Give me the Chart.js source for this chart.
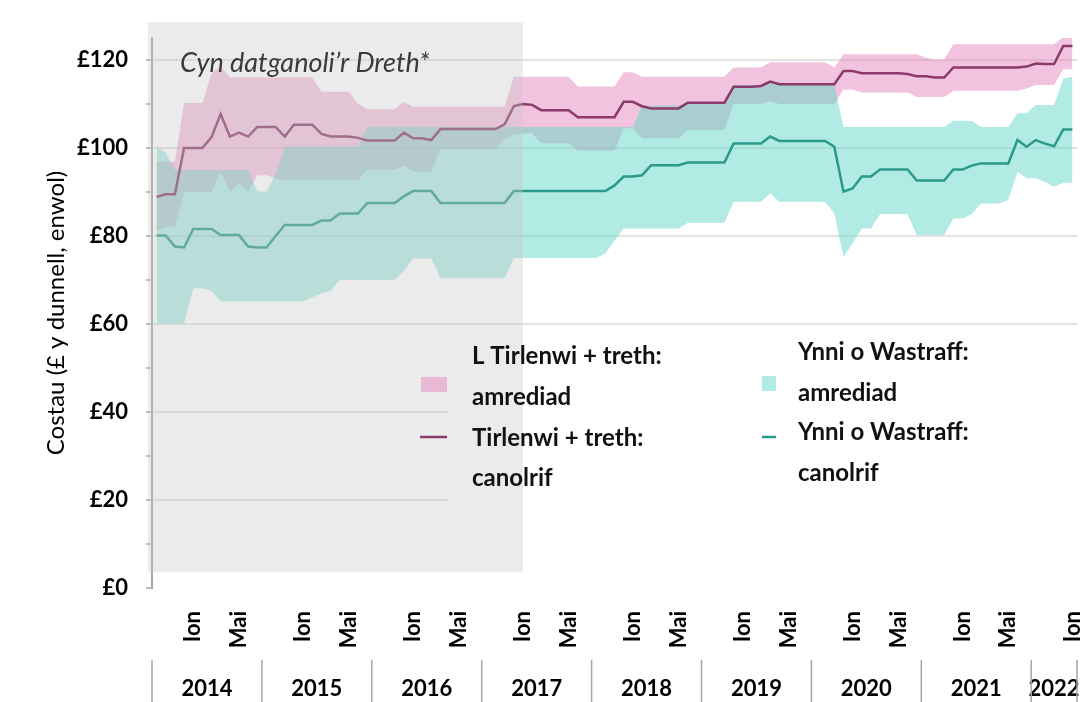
<!DOCTYPE html>
<html>
<head>
<meta charset="utf-8">
<script src="https://cdn.jsdelivr.net/npm/chart.js@4.4.1/dist/chart.umd.min.js"></script>
<style>
  html, body { margin: 0; padding: 0; background: #fff; }
  #wrap { width: 1084px; height: 702px; position: relative; }
</style>
</head>
<body>
<div id="wrap"><canvas id="costChart"></canvas></div>
<script>
// monthly points, first one is autumn 2013, last one Jan 2022
const landfillMedian = [
  88.9, 89.5, 89.5, 100, 100, 100, 102.5, 107.7, 102.6, 103.5,
  102.6, 104.8, 104.8, 104.8, 102.6, 105.3, 105.3, 105.3, 103.2, 102.6,
  102.6, 102.6, 102.3, 101.7, 101.7, 101.7, 101.7, 103.5, 102.2, 102.2,
  101.8, 104.3, 104.3, 104.3, 104.3, 104.3, 104.3, 104.3, 105.4, 109.5,
  110, 109.8, 108.6, 108.6, 108.6, 108.6, 107, 107, 107, 107,
  107, 110.5, 110.5, 109.5, 109, 109, 109, 109, 110.3, 110.3,
  110.3, 110.3, 110.3, 113.9, 113.9, 113.9, 114.1, 115.1, 114.5, 114.5,
  114.5, 114.5, 114.5, 114.5, 114.5, 117.5, 117.5, 117, 117, 117,
  117, 117, 116.8, 116.3, 116.3, 116, 116, 118.3, 118.3, 118.3,
  118.3, 118.3, 118.3, 118.3, 118.3, 118.5, 119.2, 119.1, 119.1, 123.2,
  123.2
];
const landfillHigh = [
  96.9, 96.9, 96.9, 110.2, 110.2, 110.2, 117, 118.5, 116, 116,
  116, 116, 116, 116, 116, 116, 116, 116, 112.8, 112.8,
  112.8, 112.8, 110, 108.8, 108.8, 108.8, 108.8, 110.5, 109.4, 109.4,
  109.4, 109.4, 109.4, 109.4, 109.4, 109.4, 109.4, 109.4, 109.4, 116.2,
  116.2, 116.2, 116.2, 116.2, 116.2, 116.2, 114, 114, 114, 114,
  114, 117.2, 117.2, 116.2, 116.2, 116.2, 116.2, 116.2, 116.2, 116.2,
  116.2, 116.2, 116.2, 118.3, 118.3, 118.3, 118.3, 119.5, 119.5, 119.5,
  119.5, 119.5, 119.5, 119.5, 118.3, 121.3, 121.3, 121.3, 121.3, 121.3,
  121.3, 121.3, 121.3, 121.3, 120.5, 120.1, 120.1, 123.6, 123.6, 123.6,
  123.6, 123.6, 123.6, 123.6, 123.6, 123.6, 123.6, 123.6, 123.6, 125.2,
  125.2
];
const landfillLow = [
  81.3, 82, 82, 90, 90, 90, 90, 94.5, 90, 92,
  90, 93.8, 93.8, 93, 92.7, 92.7, 92.7, 92.7, 92.7, 92.7,
  92.7, 92.7, 92.7, 95, 95, 95, 95, 96.1, 94.6, 94.6,
  94.6, 99.7, 99.7, 99.7, 99.7, 99.7, 99.7, 99.7, 102, 103,
  103.3, 103.3, 101.1, 101.1, 101.1, 101.1, 99.4, 99.4, 99.4, 99.4,
  99.4, 104.5, 104.5, 102.2, 102.2, 102.2, 102.2, 102.2, 104.1, 104.1,
  104.1, 104.1, 104.1, 110, 110, 110, 110, 110.7, 110, 110,
  110, 110, 110, 110, 110, 113.3, 113.3, 112.6, 112.6, 112.6,
  112.6, 112.6, 112.6, 111.6, 111.6, 111.6, 111.6, 113, 113, 113,
  113, 113, 113, 113, 113, 113.5, 114.3, 114.3, 114.3, 117.9,
  117.9
];
const efwMedian = [
  80.1, 80.1, 77.6, 77.4, 81.6, 81.6, 81.6, 80.2, 80.2, 80.2,
  77.6, 77.4, 77.4, 80, 82.5, 82.5, 82.5, 82.5, 83.5, 83.5,
  85.1, 85.1, 85.1, 87.5, 87.5, 87.5, 87.5, 89, 90.2, 90.2,
  90.2, 87.5, 87.5, 87.5, 87.5, 87.5, 87.5, 87.5, 87.5, 90.2,
  90.2, 90.2, 90.2, 90.2, 90.2, 90.2, 90.2, 90.2, 90.2, 90.2,
  91.5, 93.5, 93.5, 93.8, 96.1, 96.1, 96.1, 96.1, 96.7, 96.7,
  96.7, 96.7, 96.7, 101, 101, 101, 101, 102.6, 101.6, 101.6,
  101.6, 101.6, 101.6, 101.6, 100.3, 90.1, 90.8, 93.5, 93.5, 95.1,
  95.1, 95.1, 95.1, 92.6, 92.6, 92.6, 92.6, 95.1, 95.1, 96,
  96.5, 96.5, 96.5, 96.5, 101.8, 100.3, 101.8, 101, 100.4, 104.2,
  104.2
];
const efwHigh = [
  100.3, 99, 95, 95, 95, 95, 95, 95, 95, 95,
  95, 90.1, 90.1, 94, 100.3, 100.3, 100.3, 100.3, 100.3, 100.3,
  100.3, 100.3, 100.3, 104.8, 104.8, 104.8, 104.8, 104.8, 104.8, 104.8,
  104.8, 104.8, 104.8, 104.8, 104.8, 104.8, 104.8, 104.8, 104.8, 104.8,
  104.8, 104.8, 104.8, 104.8, 104.8, 104.8, 104.8, 104.8, 104.8, 104.8,
  104.8, 104.8, 104.8, 109.6, 109.6, 109.6, 109.6, 109.6, 110.3, 110.3,
  110.3, 110.3, 110.3, 114.3, 114.3, 114.3, 114.3, 115.3, 114.3, 114.3,
  114.3, 114.3, 114.3, 114.3, 114.3, 104.8, 104.8, 104.8, 104.8, 104.8,
  104.8, 104.8, 104.8, 104.8, 104.8, 104.8, 104.8, 106.2, 106.2, 106.2,
  104.8, 104.8, 104.8, 104.8, 107.9, 107.9, 109.8, 109.8, 109.8, 115.8,
  116.2
];
const efwLow = [
  60.1, 60.1, 60.1, 60.1, 68.1, 68.1, 67.5, 65.1, 65.1, 65.1,
  65.1, 65.1, 65.1, 65.1, 65.1, 65.1, 65.1, 66, 67, 67.5,
  70, 70, 70, 70, 70, 70, 70, 72, 74.9, 74.9,
  74.9, 70.4, 70.4, 70.4, 70.4, 70.4, 70.4, 70.4, 70.4, 75,
  75, 75, 75, 75, 75, 75, 75, 75, 75, 76,
  79, 81.7, 81.7, 81.7, 81.7, 81.7, 81.7, 81.7, 83, 83,
  83, 83, 83, 87.8, 87.8, 87.8, 87.8, 89.7, 87.8, 87.8,
  87.8, 87.8, 87.8, 87.8, 85.1, 75.3, 78.3, 81.7, 81.7, 85,
  85, 85, 85, 80.2, 80.2, 80.2, 80.2, 84, 84, 85,
  87.4, 87.4, 87.4, 88.2, 94.6, 93.1, 93.1, 92.3, 91.2, 92.1,
  92.1
];

// tick labels under the axis
const ionAt = [4, 16, 28, 40, 52, 64, 76, 88, 100];
const maiAt = [9, 21, 33, 45, 57, 69, 81, 93];
const years = ['2014', '2015', '2016', '2017', '2018', '2019', '2020', '2021', '2022'];
const yearStart = [0, 12, 24, 36, 48, 60, 72, 84, 96];
const devolvedAt = 40; // end of the "Cyn datganoli'r Dreth" period

const monthLabels = landfillMedian.map(() => '');
ionAt.forEach(i => { monthLabels[i] = 'Ion'; });
maiAt.forEach(i => { monthLabels[i] = 'Mai'; });

const pinkBand = 'rgba(230, 135, 190, 0.5)';
const tealBand = 'rgba(100, 215, 200, 0.5)';
const plum = '#8c3a6c';
const teal = '#2a9a8a';

Chart.defaults.font.family = 'Lato';

const extras = {
    id: 'extras',
    beforeDatasetsDraw(chart) {
        // legend panel hides the lower gridlines
        const {ctx, chartArea} = chart;
        ctx.save();
        ctx.fillStyle = '#fff';
        ctx.fillRect(448, 326, chartArea.right - 448, 200);
        ctx.restore();
    },
    afterDatasetsDraw(chart) {
        const {ctx, chartArea, scales} = chart;
        const top = scales.y.getPixelForValue(128.6);
        const bottom = scales.y.getPixelForValue(3.6);
        const right = scales.x.getPixelForValue(devolvedAt);
        ctx.save();
        ctx.fillStyle = 'rgba(200, 200, 200, 0.36)';
        ctx.fillRect(chartArea.left - 4, top, right - chartArea.left + 4, bottom - top);
        ctx.restore();
    },
    afterDraw(chart) {
        const {ctx, scales} = chart;
        const x = scales.x;
        ctx.save();

        ctx.font = 'italic 27px Lato';
        ctx.fillStyle = '#3a3a3a';
        ctx.textBaseline = 'alphabetic';
        ctx.fillText('Cyn datganoli’r Dreth*', 180, 72);

        // legend
        ctx.fillStyle = pinkBand;
        ctx.fillRect(421, 377, 26, 15);
        ctx.fillStyle = tealBand;
        ctx.fillRect(762, 376, 14, 15);
        ctx.lineWidth = 2.5;
        ctx.strokeStyle = plum;
        ctx.beginPath(); ctx.moveTo(420, 437); ctx.lineTo(447, 437); ctx.stroke();
        ctx.strokeStyle = teal;
        ctx.beginPath(); ctx.moveTo(762, 437); ctx.lineTo(776, 437); ctx.stroke();

        ctx.font = 'bold 24px Lato';
        ctx.fillStyle = '#111';
        ctx.textBaseline = 'middle';
        ctx.fillText('L Tirlenwi + treth:', 472, 356);
        ctx.fillText('amrediad', 472, 397);
        ctx.fillText('Tirlenwi + treth:', 472, 438);
        ctx.fillText('canolrif', 472, 478);
        ctx.fillText('Ynni o Wastraff:', 798, 352);
        ctx.fillText('amrediad', 798, 393);
        ctx.fillText('Ynni o Wastraff:', 798, 432);
        ctx.fillText('canolrif', 798, 473);

        // year row with separators
        const half = (x.getPixelForValue(1) - x.getPixelForValue(0)) / 2;
        const last = monthLabels.length;
        const edge = i => (i >= last ? x.getPixelForValue(last - 1) + half : x.getPixelForValue(i) - half);
        ctx.strokeStyle = '#a6a6a6';
        ctx.lineWidth = 1.5;
        ctx.font = 'bold 22px Lato';
        ctx.fillStyle = '#000';
        ctx.textAlign = 'center';
        years.forEach((yr, k) => {
            const a = edge(yearStart[k]);
            const b = edge(k + 1 < yearStart.length ? yearStart[k + 1] : last);
            ctx.fillText(yr, (a + b) / 2, 689);
            ctx.beginPath(); ctx.moveTo(a, 660); ctx.lineTo(a, 702); ctx.stroke();
        });
        const endX = edge(last);
        ctx.beginPath(); ctx.moveTo(endX, 660); ctx.lineTo(endX, 702); ctx.stroke();
        ctx.restore();
    }
};

new Chart(document.getElementById('costChart'), {
    type: 'line',
    data: {
        labels: monthLabels,
        datasets: [
            { label: 'Tirlenwi + treth: canolrif', data: landfillMedian, borderColor: plum, borderWidth: 2.5, pointRadius: 0, fill: false },
            { label: 'Ynni o Wastraff: canolrif', data: efwMedian, borderColor: teal, borderWidth: 2.5, pointRadius: 0, fill: false },
            { label: 'Ynni o Wastraff: amrediad', data: efwHigh, borderColor: 'rgba(0,0,0,0)', borderWidth: 0, pointRadius: 0, backgroundColor: tealBand, fill: '+1' },
            { label: 'efw low', data: efwLow, borderColor: 'rgba(0,0,0,0)', borderWidth: 0, pointRadius: 0, fill: false },
            { label: 'L Tirlenwi + treth: amrediad', data: landfillHigh, borderColor: 'rgba(0,0,0,0)', borderWidth: 0, pointRadius: 0, backgroundColor: pinkBand, fill: '+1' },
            { label: 'landfill low', data: landfillLow, borderColor: 'rgba(0,0,0,0)', borderWidth: 0, pointRadius: 0, fill: false }
        ]
    },
    options: {
        responsive: true,
        maintainAspectRatio: false,
        animation: false,
        layout: { padding: { top: 38, right: 7, left: 0, bottom: 0 } },
        plugins: {
            legend: { display: false },
            tooltip: { enabled: false }
        },
        scales: {
            x: {
                offset: true,
                grid: { display: false },
                border: { display: false },
                ticks: {
                    autoSkip: false,
                    minRotation: 90,
                    maxRotation: 90,
                    padding: 15,
                    color: '#000',
                    font: { size: 22, weight: 'bold' }
                },
                afterFit: s => { s.height = 114; s.paddingLeft = 0; s.paddingRight = 0; }
            },
            y: {
                min: 0,
                max: 125,
                afterBuildTicks: s => { s.ticks = s.ticks.filter(t => t.value % 10 === 0); },
                ticks: {
                    stepSize: 10,
                    includeBounds: false,
                    padding: 18,
                    color: '#000',
                    font: { size: 22, weight: 'bold' },
                    callback: v => (v % 20 === 0 ? '£' + v : '')
                },
                grid: {
                    color: c => (c.tick && c.tick.value > 0 && c.tick.value % 20 === 0 ? '#e3e3e3' : 'rgba(0,0,0,0)'),
                    lineWidth: 2,
                    tickLength: 6,
                    tickColor: '#a6a6a6',
                    tickWidth: 1.5
                },
                border: { color: '#a6a6a6', width: 2 },
                title: {
                    display: true,
                    text: 'Costau (£ y dunnell, enwol)',
                    color: '#000',
                    font: { size: 24 },
                    padding: { top: 42, bottom: 0 }
                },
                afterFit: s => { s.width = 152; s.paddingTop = 0; s.paddingBottom = 0; }
            }
        }
    },
    plugins: [extras]
});
</script>
</body>
</html>
